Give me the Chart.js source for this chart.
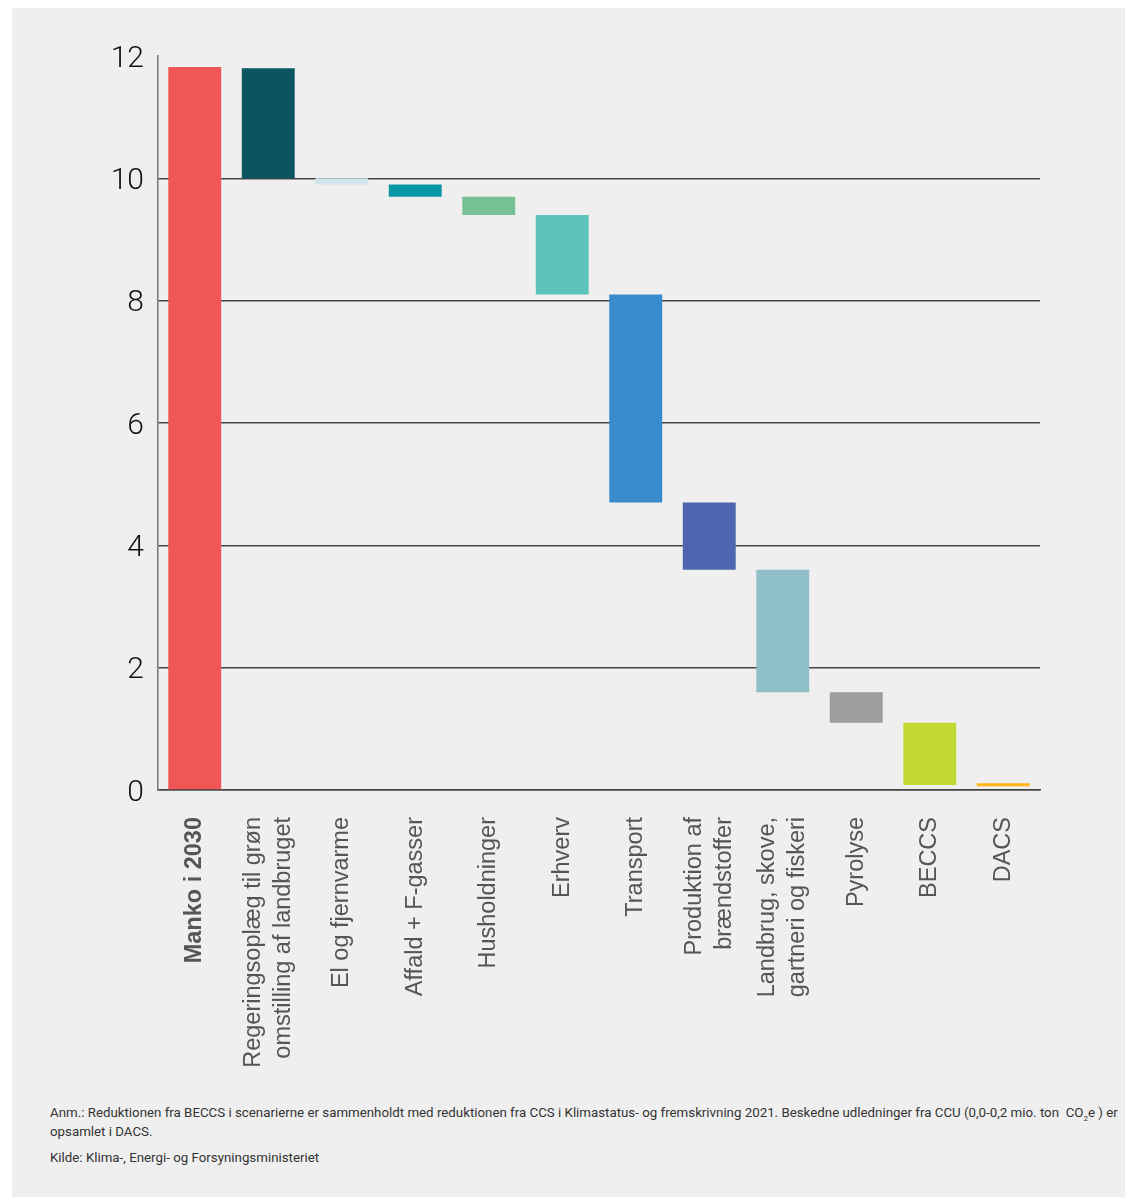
<!DOCTYPE html>
<html>
<head>
<meta charset="utf-8">
<script src="https://cdn.jsdelivr.net/npm/chart.js@4.4.0/dist/chart.umd.min.js"></script>
<style>
  body { margin: 0; background: #fff; font-family: Roboto, sans-serif; }
  #panel { position: absolute; left: 12px; top: 8px; width: 1113px; height: 1189px; background: #efefef; }
  #wrap { position: absolute; left: 0; top: 0; width: 1113px; height: 1082px; }
  #note { position: absolute; left: 38px; top: 1095px; width: 1080px; font-size: 13.3px; line-height: 19px; color: #333; }
  #note p { margin: 0 0 7px 0; }
  sub { font-size: 8px; line-height: 0; }
</style>
</head>
<body>
<div id="panel">
  <div id="wrap"><canvas id="chart"></canvas></div>
  <div id="note">
    <p>Anm.: Reduktionen fra BECCS i scenarierne er sammenholdt med reduktionen fra CCS i Klimastatus- og fremskrivning 2021. Beskedne udledninger fra CCU (0,0-0,2 mio. ton &nbsp;CO<sub>2</sub>e ) er opsamlet i DACS.</p>
    <p>Kilde: Klima-, Energi- og Forsyningsministeriet</p>
  </div>
</div>
<script>
const categories = [
  'Manko i 2030',
  ['Regeringsoplæg til grøn', 'omstilling af landbruget'],
  'El og fjernvarme',
  'Affald + F-gasser',
  'Husholdninger',
  'Erhverv',
  'Transport',
  ['Produktion af', 'brændstoffer'],
  ['Landbrug, skove,', 'gartneri og fiskeri'],
  'Pyrolyse',
  'BECCS',
  'DACS'
];
const barBottom = [0, 10.0, 9.9, 9.7, 9.4, 8.1, 4.7, 3.6, 1.6, 1.1, 0.08, 0.06];
const barTop = [11.82, 11.8, 10.0, 9.9, 9.7, 9.4, 8.1, 4.7, 3.6, 1.6, 1.1, 0.11];
const barColors = ['#f05656', '#0b5561', '#d2e6eb', '#0a97a6', '#75c194', '#5dc4bc',
  '#3a8bcb', '#4e66b0', '#8fc0c8', '#9e9e9e', '#c2d833', '#fdb71a'];
const yTicks = [0, 2, 4, 6, 8, 10, 12];

// vertical category labels, multi-line ones centred on the tick
const xLabels = {
  id: 'xLabels',
  afterDraw(chart) {
    const x = chart.scales.x, c = chart.ctx;
    const top = x.top + 27, lh = 30;
    c.save();
    c.fillStyle = '#555';
    c.textAlign = 'right';
    c.textBaseline = 'middle';
    categories.forEach((lab, i) => {
      const lines = Array.isArray(lab) ? lab : [lab];
      c.font = (i === 0 ? 'bold ' : '') + '23.5px "Liberation Sans", Arial, sans-serif';
      const px = x.getPixelForTick(i);
      lines.forEach((t, j) => {
        c.save();
        c.translate(px + (j - (lines.length - 1) / 2) * lh, top);
        c.rotate(-Math.PI / 2);
        c.fillText(t, 0, 0);
        c.restore();
      });
    });
    c.restore();
  }
};

const ctx = document.getElementById('chart').getContext('2d');
new Chart(ctx, {
  type: 'bar',
  data: {
    labels: categories,
    datasets: [{
      data: barBottom.map((b, i) => [b, barTop[i]]),
      backgroundColor: barColors,
      borderWidth: 0,
      barPercentage: 0.72,
      categoryPercentage: 1
    }]
  },
  plugins: [xLabels],
  options: {
    responsive: true,
    maintainAspectRatio: false,
    animation: false,
    layout: { padding: { top: 48, right: 85, left: 0, bottom: 0 } },
    plugins: { legend: { display: false }, tooltip: { enabled: false } },
    scales: {
      x: {
        grid: { display: false, drawTicks: false },
        border: { color: '#444', width: 1.5 },
        ticks: { display: false },
        afterFit: s => { s.height = 300; }
      },
      y: {
        min: 0,
        max: 12,
        afterBuildTicks: s => { s.ticks = yTicks.map(v => ({ value: v })); },
        grid: {
          drawTicks: false,
          color: c => c.tick && c.tick.value === 12 ? 'rgba(0,0,0,0)' : '#444',
          lineWidth: 1.5
        },
        border: { color: '#777', width: 1.5 },
        ticks: {
          padding: 14,
          labelOffset: 3,
          color: '#111',
          font: { family: 'Roboto', size: 30, weight: '300' }
        },
        afterFit: s => { s.width = 146; }
      }
    }
  }
});
</script>
</body>
</html>
